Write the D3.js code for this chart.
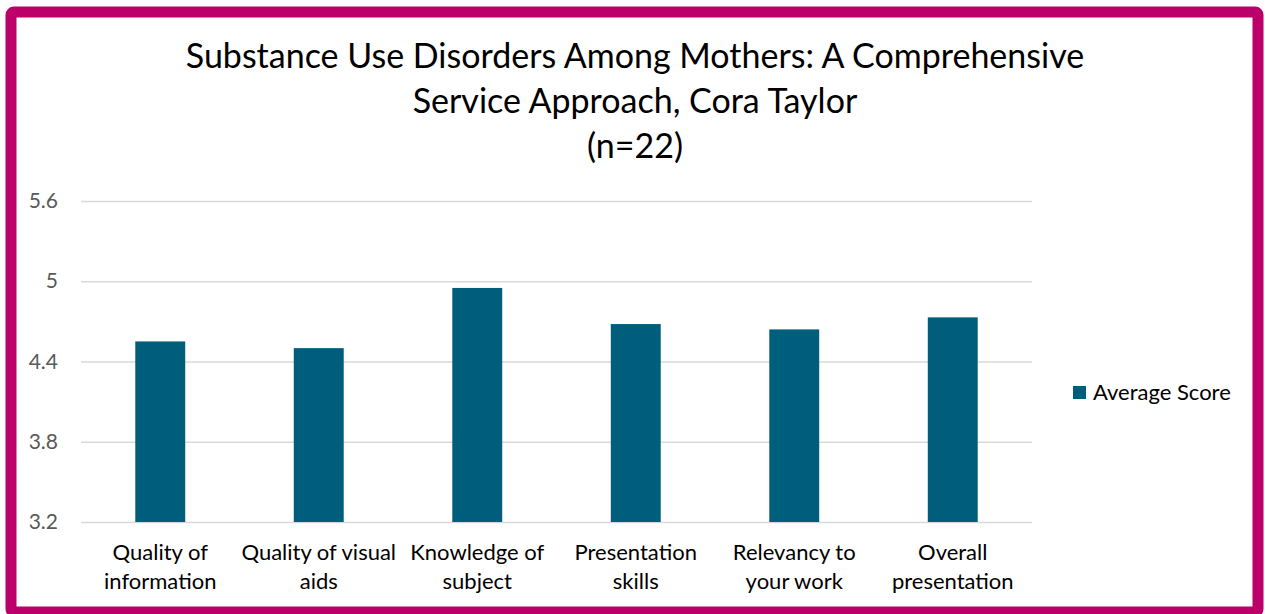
<!DOCTYPE html>
<html><head><meta charset="utf-8">
<script src="https://cdn.jsdelivr.net/npm/d3@7"></script>
<style>html,body{margin:0;padding:0;background:#fff;}svg{display:block;}</style>
</head><body>
<svg id="chart" width="1265" height="614"></svg>
<script>
const titleLines = ["Substance Use Disorders Among Mothers: A Comprehensive", "Service Approach, Cora Taylor", "(n=22)"];
const categories = ["Quality of information", "Quality of visual aids", "Knowledge of subject", "Presentation skills", "Relevancy to your work", "Overall presentation"];
const categoryLines = [["Quality of","information"],["Quality of visual","aids"],["Knowledge of","subject"],["Presentation","skills"],["Relevancy to","your work"],["Overall","presentation"]];
const averageScore = [4.55, 4.50, 4.95, 4.68, 4.64, 4.73];
const yTicks = [3.2, 3.8, 4.4, 5, 5.6];
const seriesName = "Average Score";

const font = "Lato, 'Open Sans', sans-serif";
const svg = d3.select("#chart");

svg.append("rect").attr("x", 11).attr("y", 12).attr("width", 1247).attr("height", 600)
  .attr("rx", 3).attr("fill", "#fff").attr("stroke", "#BC006A").attr("stroke-width", 11);

const pLeft = 81, pRight = 1032, pTop = 201, pBottom = 522;
const x = d3.scaleBand().domain(categories).range([pLeft, pRight]).paddingInner(0.685).paddingOuter(0.3425);
const y = d3.scaleLinear().domain([3.2, 5.6]).range([pBottom, pTop]);

const yAxis = svg.append("g").attr("transform", `translate(${pLeft},0)`)
  .call(d3.axisLeft(y).tickValues(yTicks).tickSize(-(pRight - pLeft)).tickFormat(d => String(d)));
yAxis.select(".domain").remove();
yAxis.selectAll(".tick line").attr("stroke", "#D9D9D9").attr("stroke-width", 1.5);
yAxis.selectAll(".tick text").attr("x", -23).attr("fill", "#595959")
  .style("font-family", font).style("font-size", "21px");

svg.append("g").selectAll("rect").data(averageScore).join("rect")
  .attr("x", (d, i) => x(categories[i])).attr("width", x.bandwidth())
  .attr("y", d => y(d)).attr("height", d => y(3.2) - y(d))
  .attr("fill", "#005E7D");

const xl = svg.append("g").selectAll("text").data(categoryLines).join("text")
  .attr("text-anchor", "middle").attr("fill", "#000")
  .style("font-family", font).style("font-size", "22px")
  .attr("transform", (d, i) => `translate(${x(categories[i]) + x.bandwidth() / 2},0)`);
xl.selectAll("tspan").data(d => d).join("tspan").attr("x", 0).attr("y", (d, j) => 560 + j * 29).text(d => d);

svg.append("g").selectAll("text").data(titleLines).join("text")
  .attr("x", 635).attr("y", (d, i) => 68 + i * 45).attr("text-anchor", "middle")
  .style("font-family", font).style("font-size", "34px").attr("fill", "#000").text(d => d);

const lg = svg.append("g");
lg.append("rect").attr("x", 1073).attr("y", 386).attr("width", 13).attr("height", 13).attr("fill", "#005E7D");
lg.append("text").attr("x", 1093).attr("y", 400).style("font-family", font).style("font-size", "22px")
  .attr("fill", "#000").text(seriesName);
</script>
</body></html>
